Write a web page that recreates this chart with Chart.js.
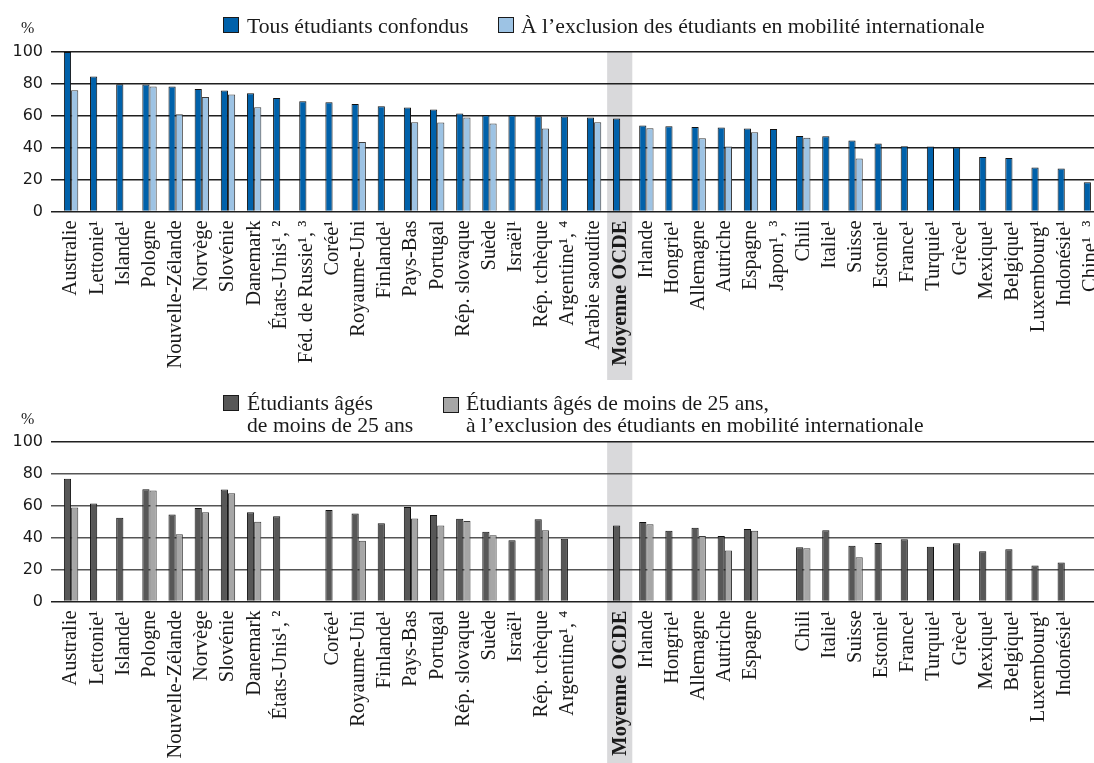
<!DOCTYPE html>
<html lang="fr">
<head>
<meta charset="utf-8">
<script src="https://cdn.jsdelivr.net/npm/chart.js@4.4.1/dist/chart.umd.min.js"></script>
<style>
  html, body { margin: 0; padding: 0; width: 1094px; height: 763px; overflow: hidden; background: #fff; }
  canvas { position: absolute; left: 0; }
  #topChart { top: 0; }
  #bottomChart { top: 380px; }
  .txt { position: absolute; font-family: "Liberation Serif", serif; color: #1a1a1a; white-space: nowrap; }
  .leg { font-size: 21.7px; line-height: 22px; }
  .pct { font-size: 16px; line-height: 16px; }
  .sw { position: absolute; width: 14px; height: 14px; border: 1px solid #1a1a1a; }
</style>
</head>
<body>
<canvas id="topChart" width="1110" height="380"></canvas>
<canvas id="bottomChart" width="1110" height="383"></canvas>

<!-- legends and unit labels -->
<div class="txt pct" style="left:21px; top:20px;">%</div>
<div class="sw" style="left:223px; top:17px; background:#0061aa;"></div>
<div class="txt leg" style="left:247px; top:15px;">Tous étudiants confondus</div>
<div class="sw" style="left:498px; top:17px; background:#9dc3e4;"></div>
<div class="txt leg" style="left:521px; top:15px;">À l’exclusion des étudiants en mobilité internationale</div>

<div class="txt pct" style="left:21px; top:411px;">%</div>
<div class="sw" style="left:223px; top:395px; background:#575757;"></div>
<div class="txt leg" style="left:247px; top:392px;">Étudiants âgés<br>de moins de 25 ans</div>
<div class="sw" style="left:443px; top:397px; background:#a6a6a6;"></div>
<div class="txt leg" style="left:466px; top:392px;">Étudiants âgés de moins de 25 ans,<br>à l’exclusion des étudiants en mobilité internationale</div>

<script>
// categories (same order in both panels, blanks where a country has no data)
const categoriesTop = ['Australie', 'Lettonie¹', 'Islande¹', 'Pologne', 'Nouvelle-Zélande', 'Norvège', 'Slovénie',
    'Danemark', 'États-Unis¹, ²', 'Féd. de Russie¹, ³', 'Corée¹', 'Royaume-Uni', 'Finlande¹', 'Pays-Bas', 'Portugal',
    'Rép. slovaque', 'Suède', 'Israël¹', 'Rép. tchèque', 'Argentine¹, ⁴', 'Arabie saoudite', 'Moyenne OCDE', 'Irlande',
    'Hongrie¹', 'Allemagne', 'Autriche', 'Espagne', 'Japon¹, ³', 'Chili', 'Italie¹', 'Suisse', 'Estonie¹', 'France¹',
    'Turquie¹', 'Grèce¹', 'Mexique¹', 'Belgique¹', 'Luxembourg¹', 'Indonésie¹', 'Chine¹, ³'];
const categoriesBottom = ['Australie', 'Lettonie¹', 'Islande¹', 'Pologne', 'Nouvelle-Zélande', 'Norvège', 'Slovénie',
    'Danemark', 'États-Unis¹, ²', '', 'Corée¹', 'Royaume-Uni', 'Finlande¹', 'Pays-Bas', 'Portugal',
    'Rép. slovaque', 'Suède', 'Israël¹', 'Rép. tchèque', 'Argentine¹, ⁴', '', 'Moyenne OCDE', 'Irlande',
    'Hongrie¹', 'Allemagne', 'Autriche', 'Espagne', '', 'Chili', 'Italie¹', 'Suisse', 'Estonie¹', 'France¹',
    'Turquie¹', 'Grèce¹', 'Mexique¹', 'Belgique¹', 'Luxembourg¹', 'Indonésie¹', ''];

// top panel, %
const allStudents = [100, 84.6, 79.8, 79.6, 78.3, 76.8, 75.8, 74.1, 71.2, 69.1, 68.5, 67.4, 66, 65.2, 63.9, 61.4,
    60.3, 60.3, 59.7, 59.5, 58.9, 58.3, 53.9, 53.4, 53, 52.6, 52, 51.8, 47.4, 47.2, 44.5, 42.6, 40.9, 40.7, 40.1,
    34.2, 33.6, 27.6, 26.9, 18.4];
const allNoMobility = [76, null, null, 78.3, 61, 71.8, 73.3, 65.4, null, null, null, 43.6, null, 56, 55.8, 58.9,
    55.1, null, 52, null, 56, null, 52.2, null, 45.9, 40.7, 49.7, null, 46.3, null, 33.2, null, null, null, null,
    null, null, null, null, null];

// bottom panel, %
const under25 = [76.9, 61.5, 52.5, 70.4, 54.6, 58.6, 70.2, 56, 53.4, null, 57.3, 55.2, 49, 59.2, 54.2, 51.9,
    43.8, 38.4, 51.5, 39.4, null, 47.7, 49.8, 44.4, 46.3, 41.1, 45.5, null, 34, 44.6, 35, 36.7, 39, 34.4, 36.5,
    31.5, 32.7, 22.5, 24.4, null];
const under25NoMobility = [59, null, null, 69.6, 42.1, 55.9, 67.9, 50, null, null, null, 38.1, null, 52.1, 47.7,
    50.4, 41.5, null, 44.6, null, null, null, 48.4, null, 41.1, 31.9, 44.3, null, 33.4, null, 27.7, null, null,
    null, null, null, null, null, null, null];

const yTicks = [0, 20, 40, 60, 80, 100];

const CANVAS_W = 1110;
const AREA_LEFT = 58;      // plot area left edge (gridline ticks reach 7px further)
const AREA_RIGHT = 1104;   // plot runs past the right edge of the page, like the original

Chart.defaults.font.family = '"Liberation Serif", serif';
Chart.defaults.color = '#1a1a1a';

// grey column behind the OECD average
const ocdeBand = {
    id: 'ocdeBand',
    beforeDraw(chart) {
        const x = chart.scales.x;
        const i = chart.data.labels.indexOf('Moyenne OCDE');
        const band = (x.right - x.left) / chart.data.labels.length;
        const cx = x.getPixelForValue(i);
        const ctx = chart.ctx;
        ctx.save();
        ctx.fillStyle = '#d9d9db';
        ctx.fillRect(cx - band / 2, chart.chartArea.top, band - 1, chart.height - chart.chartArea.top);
        ctx.restore();
    }
};

function makeChart(id, labels, dark, light, colors, areaTop, areaBottom, gridColor) {
    const canvas = document.getElementById(id);
    const xHeight = canvas.height - areaBottom;
    return new Chart(canvas, {
        type: 'bar',
        data: {
            labels: labels,
            datasets: [{
                data: dark,
                backgroundColor: colors[0],
                borderColor: '#111',
                borderWidth: 1,
                categoryPercentage: 0.55,
                barPercentage: 1
            }, {
                data: light,
                backgroundColor: colors[1],
                borderColor: '#3c3c3c',
                borderWidth: 1,
                categoryPercentage: 0.55,
                barPercentage: 1
            }]
        },
        options: {
            responsive: false,
            animation: false,
            layout: { padding: { top: areaTop, left: 0, right: CANVAS_W - AREA_RIGHT, bottom: 0 } },
            plugins: { legend: { display: false }, tooltip: { enabled: false } },
            scales: {
                x: {
                    grid: { display: false, drawTicks: false },
                    border: { display: false },
                    ticks: {
                        autoSkip: false,
                        minRotation: 90,
                        maxRotation: 90,
                        padding: 9,
                        font: (ctx) => ({
                            size: 20.5,
                            weight: labels[ctx.index] === 'Moyenne OCDE' ? 'bold' : 'normal'
                        })
                    },
                    afterFit: (s) => { s.height = xHeight; s.paddingLeft = 0; s.paddingRight = 0; }
                },
                y: {
                    min: 0,
                    max: 100,
                    afterBuildTicks: (s) => { s.ticks = yTicks.map(v => ({ value: v })); },
                    ticks: { padding: 8, font: { family: '"DejaVu Sans", sans-serif', size: 16 } },
                    grid: { color: gridColor, lineWidth: 1.5, tickLength: 7 },
                    border: { display: false },
                    afterFit: (s) => { s.width = AREA_LEFT; }
                }
            }
        },
        plugins: [ocdeBand]
    });
}

makeChart('topChart', categoriesTop, allStudents, allNoMobility, ['#0061aa', '#9dc3e4'], 52, 211.5,
    () => '#1f1f1f');
makeChart('bottomChart', categoriesBottom, under25, under25NoMobility, ['#575757', '#a6a6a6'], 62, 221.5,
    (ctx) => (ctx.tick.value === 0 || ctx.tick.value === 100) ? '#1f1f1f' : '#555');
</script>
</body>
</html>
